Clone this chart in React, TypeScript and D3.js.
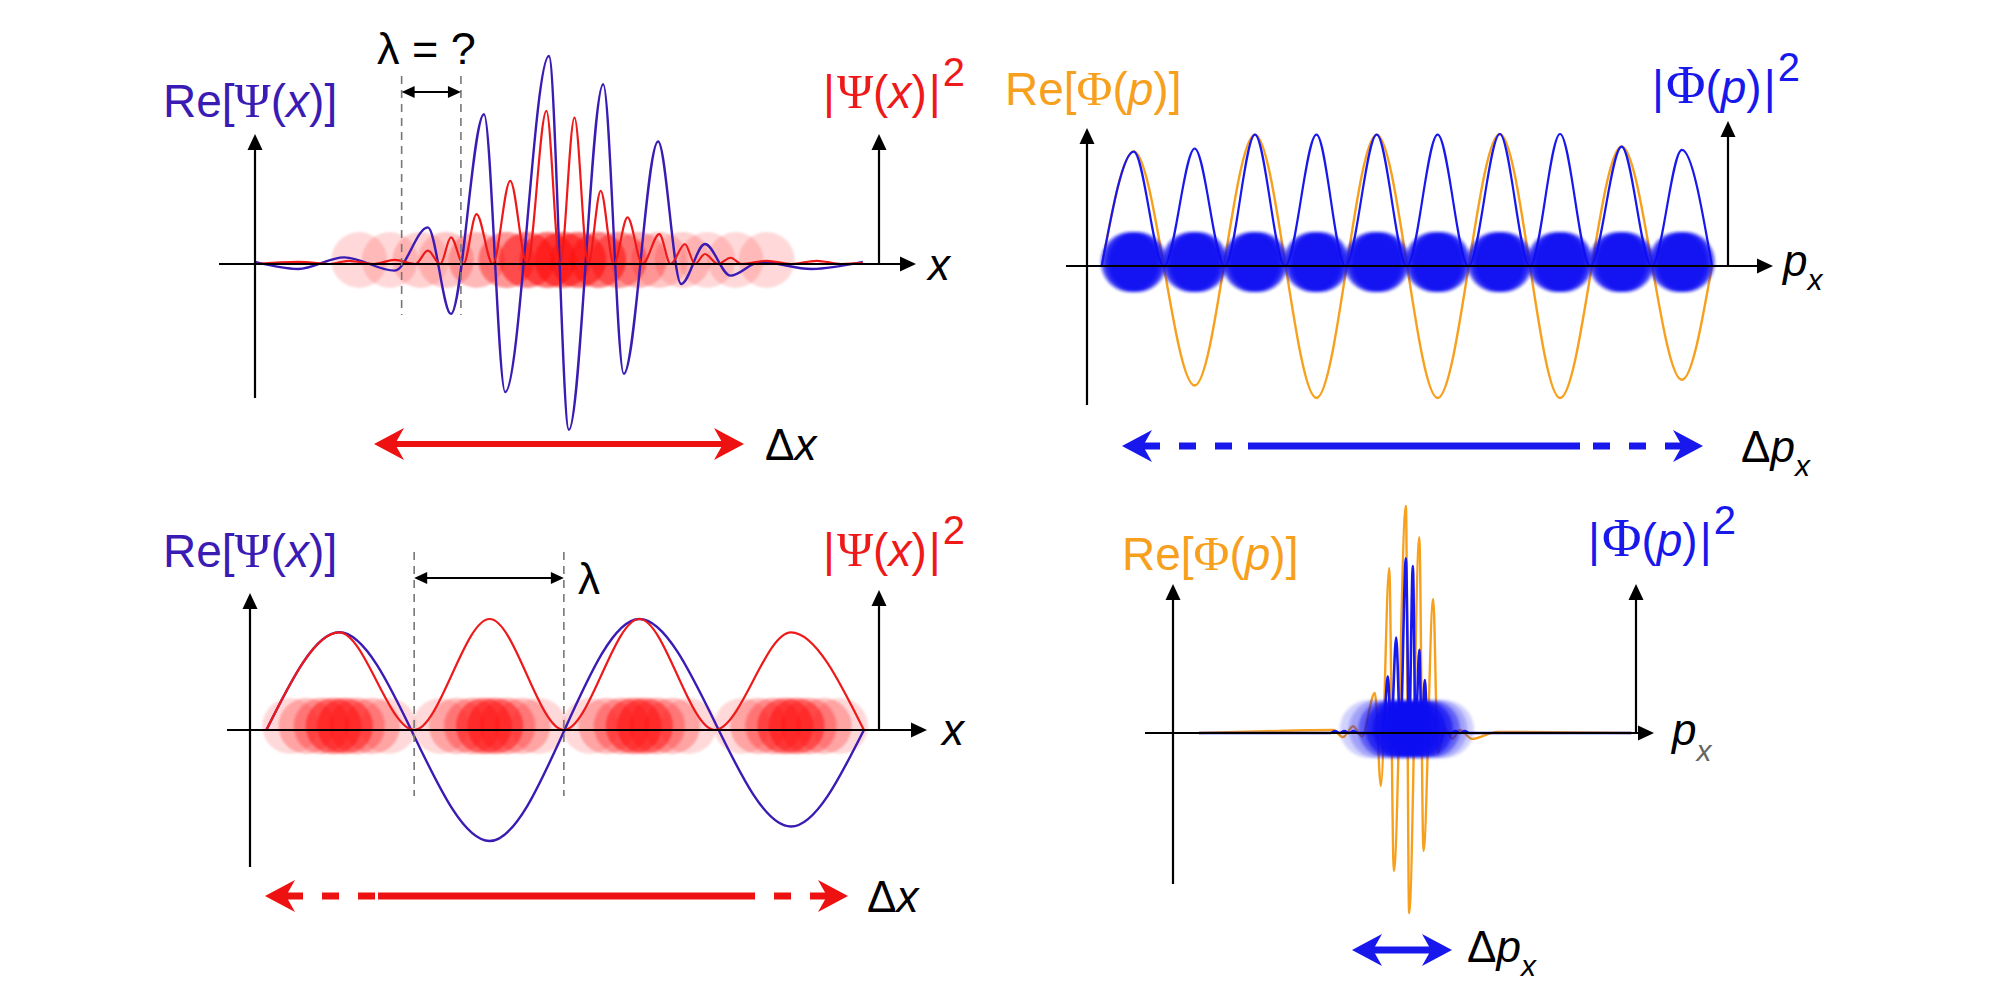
import * as d3 from 'd3';

type Pt = [number, number];

const INDIGO = '#3a1bb4';
const RED = '#ee1a1a';
const ORANGE = '#f7a01e';
const BLUE = '#1818ec';
const SANS = '"Liberation Sans", Arial, sans-serif';
const SERIF = '"Liberation Serif", "Times New Roman", serif';

// u: 0..100 along the axis (left axis -> right axis), v: -100..100 amplitude
// top-left: localized packet in x
const tlRe: Pt[] = [[0, 1], [6.9, -2.4], [14.3, 3.2], [22.4, -3.2], [27.7, 17.6], [31.4, -24], [36.7, 72], [40.1, -61.6], [47.1, 100], [50.3, -79.7], [55.8, 86.4], [59.1, -52.8], [64.6, 58.9], [68.3, -9.6], [72.1, 9.6], [76.2, -5.6], [81, 1], [89.2, -2.4], [97.4, 1]];
const tlProb: Pt[] = [[0, 0], [7, 1], [12, 0], [15, 1.5], [19, 0], [22.4, 2], [25.7, 0], [27.7, 6.4], [29.7, 0], [31.4, 12.8], [33.4, 0], [35.5, 24], [38.1, 0], [40.9, 40], [43.6, 0], [46.7, 73.6], [48.9, 0], [51.2, 70.4], [53.4, 0], [55.4, 35.2], [57.5, 0], [59.7, 22.4], [62.1, 0], [64.8, 14.4], [66.6, 0], [68.9, 9.6], [70.5, 0], [72.1, 4.8], [74.2, 0], [76.2, 3], [78, 0], [82, 1.5], [86, 0], [90, 1.5], [94, 0], [97.4, 0.5]];
const tlBlobU = [16.7, 21.6, 26.5, 30.6, 35.5, 40.3, 43.6, 46.9, 49.3, 51.8, 55, 58.3, 61.5, 64.8, 68.5, 72.5, 77, 82];
const tlBlobW = [0.15, 0.15, 0.18, 0.22, 0.28, 0.45, 0.55, 0.6, 0.6, 0.6, 0.55, 0.45, 0.3, 0.22, 0.18, 0.15, 0.15, 0.15];

// top-right: broad momentum spread
const trRe: Pt[] = [[2.3, 0], [7.3, 86.7], [16.8, -90.5], [26.2, 99.5], [35.8, -100], [45.2, 99.5], [54.7, -100], [64.4, 100], [73.8, -100], [83.4, 90.5], [92.8, -86.2], [97.5, 0]];
const trProb: Pt[] = [[2.3, 0], [7.3, 86.7], [12, 0], [16.8, 89], [21.5, 0], [26.2, 99.5], [30.9, 0], [35.8, 99.5], [40.3, 0], [45.2, 99.5], [49.9, 0], [54.7, 99.5], [59.5, 0], [64.4, 100], [69.1, 0], [73.8, 100], [78.5, 0], [83.4, 90.5], [88.1, 0], [92.8, 88], [97.5, 0]];
const trBlobC = [7.3, 16.8, 26.2, 35.8, 45.2, 54.7, 64.4, 73.8, 83.4, 92.8];
const trBlobOff = [-0.6, 0, 0.6];
const trBlobW = [0.7, 0.7, 0.7];

// bottom-left: plane wave in x
const blRe: Pt[] = [[2.6, 0], [14.2, 88], [38.1, -100], [61.9, 100], [86, -87], [97.6, 0]];
const blProb: Pt[] = [[2.6, 0], [14.2, 88], [26.1, 0], [38.1, 100], [49.9, 0], [61.9, 100], [73.9, 0], [86, 88], [97.6, 0]];
const blBlobC = [14.2, 38.1, 61.9, 86];
const blBlobOff = [-7.8, -5.2, -2.8, -0.9, 0.9, 2.8, 5.2, 7.8];
const blBlobW = [0.15, 0.25, 0.35, 0.5, 0.5, 0.35, 0.25, 0.15];

// bottom-right: narrow momentum packet
const brRe: Pt[] = [[5.6, 0], [20, 0.8], [34.6, 1.3], [36.7, -1.8], [38.9, 3], [40.8, -1.5], [43.6, 17.6], [44.9, -23.3], [46.7, 72.7], [47.7, -60.8], [50.3, 100], [51, -79.3], [53.2, 86.3], [54.1, -52], [56.2, 59], [57.2, -8.8], [58.7, 2.2], [60.3, -2.5], [62, 1.3], [64.6, -2.6], [70, 0.5], [99, 0]];
const brProb: Pt[] = [[5.6, 0], [34, 0], [35, 0.9], [36, 0], [37, 0.9], [38, 0], [39, 0.9], [40, 0], [45.4, 0], [46.4, 25], [47.1, 0], [48.2, 42], [49.1, 0], [50.3, 77], [51, 0], [51.8, 73.5], [52.4, 0], [53.2, 36.6], [53.7, 0], [54.4, 23.3], [55, 0], [60, 0], [61, 0.9], [62, 0], [63, 0.9], [64, 0], [99, 0]];
const brBlobU = [42.5, 44.5, 46.5, 48, 49.5, 51, 52.5, 54, 55.5, 57, 58.5];
const brBlobW = [0.18, 0.28, 0.45, 0.65, 0.75, 0.75, 0.75, 0.65, 0.45, 0.28, 0.18];

interface PanelCfg {
  x0: number; x1: number; axisY: number; amp: number;
  axL: number; axR: number; yTop: number; yBot: number; rTop: number;
}

const TL: PanelCfg = { x0: 255, x1: 879, axisY: 264, amp: 208, axL: 219, axR: 916, yTop: 134, yBot: 398, rTop: 134 };
const TR: PanelCfg = { x0: 1087, x1: 1728, axisY: 266, amp: 132, axL: 1066, axR: 1773, yTop: 128, yBot: 405, rTop: 121 };
const BL: PanelCfg = { x0: 250, x1: 879, axisY: 730, amp: 111, axL: 227, axR: 927, yTop: 593, yBot: 867, rTop: 590 };
const BR: PanelCfg = { x0: 1173, x1: 1636, axisY: 733, amp: 227, axL: 1145, axR: 1654, yTop: 584, yBot: 884, rTop: 584 };

function scales(p: PanelCfg) {
  const x = d3.scaleLinear().domain([0, 100]).range([p.x0, p.x1]);
  const y = d3.scaleLinear().domain([-100, 100]).range([p.axisY + p.amp, p.axisY - p.amp]);
  return { x, y };
}

function wave(pts: Pt[], p: PanelCfg) {
  const { x, y } = scales(p);
  return d3.line<Pt>().x(d => x(d[0])).y(d => y(d[1])).curve(d3.curveMonotoneX)(pts) ?? '';
}

// arrow head, tip at (tx,ty), pointing along angle a
function head(tx: number, ty: number, a: number, L: number, W: number, notch = 0) {
  const c = Math.cos(a), s = Math.sin(a);
  const pt = (u: number, v: number) => `${tx - u * c - v * s},${ty - u * s + v * c}`;
  return `M${tx},${ty}L${pt(L, -W)}L${pt(L * (1 - notch), 0)}L${pt(L, W)}Z`;
}

const Axes = ({ p }: { p: PanelCfg }) => (
  <g stroke="#000" strokeWidth={2.2} fill="#000">
    <line x1={p.axL} y1={p.axisY} x2={p.axR - 12} y2={p.axisY} />
    <path d={head(p.axR, p.axisY, 0, 16, 7.5)} stroke="none" />
    <line x1={p.x0} y1={p.yBot} x2={p.x0} y2={p.yTop + 12} />
    <path d={head(p.x0, p.yTop, -Math.PI / 2, 16, 7.5)} stroke="none" />
    <line x1={p.x1} y1={p.axisY} x2={p.x1} y2={p.rTop + 12} />
    <path d={head(p.x1, p.rTop, -Math.PI / 2, 16, 7.5)} stroke="none" />
  </g>
);

const Blobs = ({ p, us, ws, color, rx, ry, f }: { p: PanelCfg; us: number[]; ws: number[]; color: string; rx: number; ry: number; f: string }) => {
  const { x } = scales(p);
  return (
    <g filter={`url(#${f})`}>
      {us.map((u, i) => (
        <ellipse key={i} cx={x(u)} cy={p.axisY - 4} rx={rx} ry={ry} fill={color} opacity={ws[i]} />
      ))}
    </g>
  );
};

// double arrow for the uncertainty width; dashed ends optional
const Spread = ({ xa, xb, y, color, w, solidA, solidB }: { xa: number; xb: number; y: number; color: string; w: number; solidA?: number; solidB?: number }) => {
  const L = 30, W = 16;
  const sa = solidA ?? xa + L * 0.7;
  const sb = solidB ?? xb - L * 0.7;
  return (
    <g fill={color} stroke={color} strokeWidth={w}>
      {solidA !== undefined && <line x1={xa + L * 0.7} y1={y} x2={sa} y2={y} strokeDasharray="17 19" />}
      <line x1={sa} y1={y} x2={sb} y2={y} />
      {solidB !== undefined && <line x1={xb - L * 0.7} y1={y} x2={sb} y2={y} strokeDasharray="17 19" />}
      <path d={head(xa, y, Math.PI, L, W, 0.3)} stroke="none" />
      <path d={head(xb, y, 0, L, W, 0.3)} stroke="none" />
    </g>
  );
};

const ReLabel = ({ x, y, color, sym, arg }: { x: number; y: number; color: string; sym: string; arg: string }) => (
  <text x={x} y={y} fill={color} fontSize={46} fontFamily={SANS}>
    Re[<tspan fontFamily={SERIF} fontSize={49}>{sym}</tspan>(<tspan fontStyle="italic">{arg}</tspan>)]
  </text>
);

const ProbLabel = ({ x, y, color, sym, arg, symSize = 49 }: { x: number; y: number; color: string; sym: string; arg: string; symSize?: number }) => (
  <text x={x} y={y} fill={color} fontSize={46} fontFamily={SANS}>
    |<tspan fontFamily={SERIF} fontSize={symSize} dx={2}>{sym}</tspan>(<tspan fontStyle="italic">{arg}</tspan>)<tspan dx={2}>|</tspan><tspan dy={-22} dx={2} fontSize={40}>2</tspan>
  </text>
);

const Dashed = ({ x, y1, y2 }: { x: number; y1: number; y2: number }) => (
  <line x1={x} y1={y1} x2={x} y2={y2} stroke="#777" strokeWidth={1.6} strokeDasharray="8 6" />
);

const Lambda = ({ xa, xb, y }: { xa: number; xb: number; y: number }) => (
  <g stroke="#000" fill="#000" strokeWidth={2}>
    <line x1={xa + 8} y1={y} x2={xb - 8} y2={y} />
    <path d={head(xa, y, Math.PI, 13, 6)} stroke="none" />
    <path d={head(xb, y, 0, 13, 6)} stroke="none" />
  </g>
);

export default function App() {
  const tl = scales(TL);
  const bl = scales(BL);
  return (
    <svg width={2000} height={1000} style={{ display: 'block', position: 'absolute', left: 0, top: 0, background: '#fff' }}>
      <defs>
        <filter id="softR" x="-20%" y="-50%" width="140%" height="200%">
          <feGaussianBlur stdDeviation={1.3} />
        </filter>
        <filter id="softB" x="-20%" y="-50%" width="140%" height="200%">
          <feGaussianBlur stdDeviation={1.8} />
        </filter>
      </defs>
      <rect width={2000} height={1000} fill="#fff" />

      {/* top-left */}
      <Blobs p={TL} us={tlBlobU} ws={tlBlobW} color="#ff1010" rx={28} ry={28} f="softR" />
      <path d={wave(tlRe, TL)} fill="none" stroke={INDIGO} strokeWidth={2.4} />
      <path d={wave(tlProb, TL)} fill="none" stroke={RED} strokeWidth={2.2} />
      <Axes p={TL} />
      <Dashed x={tl.x(23.5)} y1={76} y2={315} />
      <Dashed x={tl.x(33)} y1={76} y2={315} />
      <Lambda xa={tl.x(23.5)} xb={tl.x(33)} y={92} />
      <text x={377} y={64} fontSize={45} fontFamily={SANS} fill="#000">λ = ?</text>
      <ReLabel x={163} y={117} color={INDIGO} sym="Ψ" arg="x" />
      <ProbLabel x={823} y={108} color={RED} sym="Ψ" arg="x" />
      <text x={928} y={280} fontSize={44} fontStyle="italic" fontFamily={SANS}>x</text>
      <Spread xa={374} xb={744} y={444} color="#ee1111" w={6} />
      <text x={765} y={460} fontSize={44} fontFamily={SANS}>Δ<tspan fontStyle="italic">x</tspan></text>

      {/* top-right */}
      <path d={wave(trRe, TR)} fill="none" stroke={ORANGE} strokeWidth={2.4} />
      <path d={wave(trProb, TR)} fill="none" stroke={BLUE} strokeWidth={2.2} />
      <g>
        {trBlobC.map((c, j) => (
          <Blobs key={j} p={TR} us={trBlobOff.map(o => c + o)} ws={trBlobW} color="#1212f2" rx={29} ry={30} f="softB" />
        ))}
      </g>
      <Axes p={TR} />
      <ReLabel x={1005} y={105} color={ORANGE} sym="Φ" arg="p" />
      <ProbLabel x={1652} y={103} color={BLUE} sym="Φ" arg="p" symSize={54} />
      <text x={1783} y={276} fontSize={44} fontStyle="italic" fontFamily={SANS}>p<tspan dy={14} fontSize={30}>x</tspan></text>
      <Spread xa={1122} xb={1703} y={446} color={BLUE} w={7} solidA={1248} solidB={1580} />
      <text x={1741} y={462} fontSize={44} fontFamily={SANS}>Δ<tspan fontStyle="italic">p</tspan><tspan dy={14} fontSize={30} fontStyle="italic">x</tspan></text>

      {/* bottom-left */}
      <g>
        {blBlobC.map((c, j) => (
          <Blobs key={j} p={BL} us={blBlobOff.map(o => c + o)} ws={blBlobW} color="#ff1010" rx={28} ry={28} f="softR" />
        ))}
      </g>
      <path d={wave(blRe, BL)} fill="none" stroke={INDIGO} strokeWidth={2.4} />
      <path d={wave(blProb, BL)} fill="none" stroke={RED} strokeWidth={2.2} />
      <Axes p={BL} />
      <Dashed x={bl.x(26.1)} y1={552} y2={796} />
      <Dashed x={bl.x(49.9)} y1={552} y2={796} />
      <Lambda xa={bl.x(26.1)} xb={bl.x(49.9)} y={578} />
      <text x={578} y={594} fontSize={44} fontFamily={SANS}>λ</text>
      <ReLabel x={163} y={567} color={INDIGO} sym="Ψ" arg="x" />
      <ProbLabel x={823} y={566} color={RED} sym="Ψ" arg="x" />
      <text x={942} y={745} fontSize={44} fontStyle="italic" fontFamily={SANS}>x</text>
      <Spread xa={265} xb={848} y={896} color="#ee1111" w={7} solidA={378} solidB={754} />
      <text x={867} y={912} fontSize={44} fontFamily={SANS}>Δ<tspan fontStyle="italic">x</tspan></text>

      {/* bottom-right */}
      <path d={wave(brRe, BR)} fill="none" stroke={ORANGE} strokeWidth={2.4} />
      <path d={wave(brProb, BR)} fill="none" stroke={BLUE} strokeWidth={2.6} />
      <Blobs p={BR} us={brBlobU} ws={brBlobW} color="#1212f2" rx={30} ry={29} f="softB" />
      <Axes p={BR} />
      <ReLabel x={1122} y={570} color={ORANGE} sym="Φ" arg="p" />
      <ProbLabel x={1588} y={556} color={BLUE} sym="Φ" arg="p" symSize={54} />
      <text x={1672} y={745} fontSize={44} fontStyle="italic" fontFamily={SANS}>p<tspan dy={16} fontSize={30} fill="#666">x</tspan></text>
      <Spread xa={1352} xb={1452} y={950} color={BLUE} w={7} />
      <text x={1467} y={962} fontSize={44} fontFamily={SANS}>Δ<tspan fontStyle="italic">p</tspan><tspan dy={14} fontSize={30} fontStyle="italic">x</tspan></text>
    </svg>
  );
}
